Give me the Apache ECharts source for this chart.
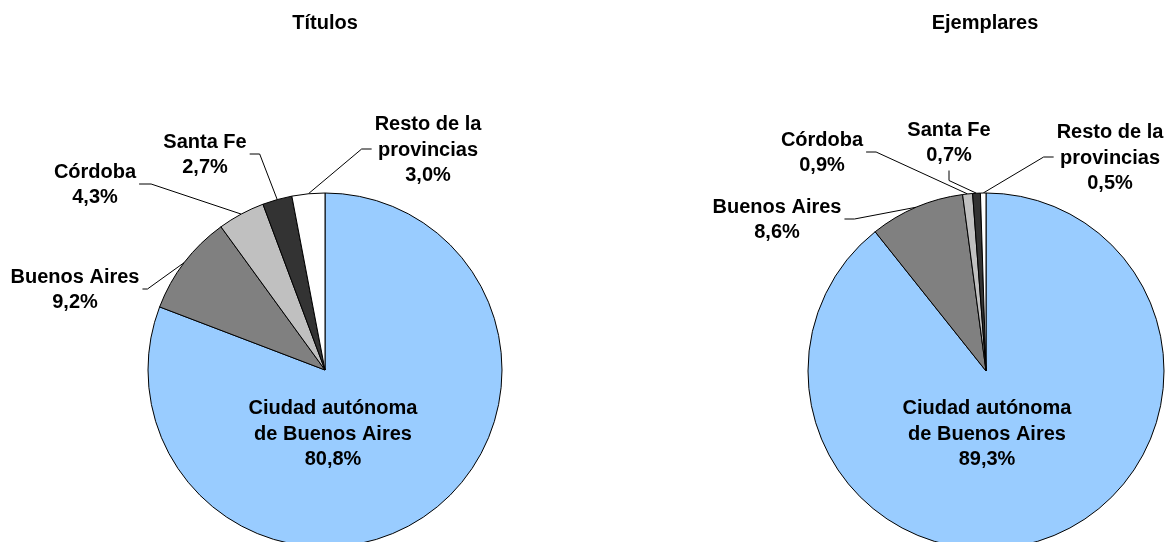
<!DOCTYPE html>
<html>
<head>
<meta charset="utf-8">
<script src="https://cdn.jsdelivr.net/npm/echarts@6/dist/echarts.min.js"></script>
<style>
  html, body { margin: 0; padding: 0; background: #fff; }
  #chart { width: 1173px; height: 542px; }
</style>
</head>
<body>
<div id="chart"></div>
<script>
// categorias (con saltos de linea para la etiqueta)
var categories = ['Ciudad autónoma\nde Buenos Aires', 'Buenos Aires', 'Córdoba', 'Santa Fe', 'Resto de la\nprovincias'];
var titulosValues = [80.8, 9.2, 4.3, 2.7, 3.0];
var ejemplaresValues = [89.3, 8.6, 0.9, 0.7, 0.5];
var chartTitles = ['Títulos', 'Ejemplares'];

var colors = ['#99CCFF', '#808080', '#C0C0C0', '#333333', '#FFFFFF'];
var font = "'Liberation Sans', Arial, sans-serif";

// donde va cada etiqueta (centro del bloque) y de que lado sale la linea
var leftLabels = [
  { x: 333, y: 434 },
  { x: 75, y: 290, side: 'right', len: 5 },
  { x: 95, y: 185, side: 'right', len: 12 },
  { x: 205, y: 155, side: 'right', len: 10 },
  { x: 428, y: 150, side: 'left', len: 10 }
];
var rightLabels = [
  { x: 987, y: 434 },
  { x: 777, y: 220, side: 'right', len: 10 },
  { x: 822, y: 153, side: 'right', len: 10 },
  { x: 949, y: 143, side: 'bottom', len: 10 },
  { x: 1110, y: 158, side: 'left', len: 10 }
];

function fmt(v) {
  return v.toFixed(1).replace('.', ',') + '%';
}

function makeLayout(pos) {
  return function (params) {
    var p = pos[params.dataIndex];
    var w = params.labelRect.width, h = params.labelRect.height;
    var res = { x: p.x, y: p.y, align: 'center', verticalAlign: 'middle' };
    if (p.side && params.labelLinePoints) {
      var anchor = params.labelLinePoints[0];
      var end, turn;
      if (p.side === 'right') {
        end = [p.x + w / 2 + 3, p.y - 1];
        turn = [end[0] + p.len, end[1]];
      } else if (p.side === 'left') {
        end = [p.x - w / 2 - 3, p.y - 1];
        turn = [end[0] - p.len, end[1]];
      } else {
        end = [p.x, p.y + h / 2 + 2];
        turn = [p.x, end[1] + p.len];
      }
      res.labelLinePoints = [anchor, turn, end];
    }
    return res;
  };
}

function makeSeries(values, center, radius, pos) {
  return {
    type: 'pie',
    center: center,
    radius: radius,
    startAngle: 90,
    clockwise: true,
    animation: false,
    silent: true,
    avoidLabelOverlap: false,
    itemStyle: { borderColor: '#000', borderWidth: 1 },
    label: {
      show: true,
      position: 'outside',
      formatter: function (p) { return p.name + '\n' + fmt(p.value); },
      color: '#000',
      fontFamily: font,
      fontWeight: 'bold',
      fontSize: 20,
      lineHeight: 25.5,
      align: 'center'
    },
    labelLine: {
      show: true,
      length: 10,
      length2: 10,
      lineStyle: { color: '#000', width: 1 }
    },
    labelLayout: makeLayout(pos),
    data: categories.map(function (c, i) {
      var item = { name: c, value: values[i], itemStyle: { color: colors[i] } };
      if (i === 0) item.labelLine = { show: false };
      return item;
    })
  };
}

var chart = echarts.init(document.getElementById('chart'));
chart.setOption({
  backgroundColor: '#fff',
  title: [
    { text: chartTitles[0], left: 325, top: 13, textAlign: 'center', padding: 0,
      textStyle: { fontFamily: font, fontWeight: 'bold', fontSize: 20, color: '#000' } },
    { text: chartTitles[1], left: 985, top: 13, textAlign: 'center', padding: 0,
      textStyle: { fontFamily: font, fontWeight: 'bold', fontSize: 20, color: '#000' } }
  ],
  series: [
    makeSeries(titulosValues, [325, 370], 177, leftLabels),
    makeSeries(ejemplaresValues, [986, 371], 178, rightLabels)
  ]
});
</script>
</body>
</html>
